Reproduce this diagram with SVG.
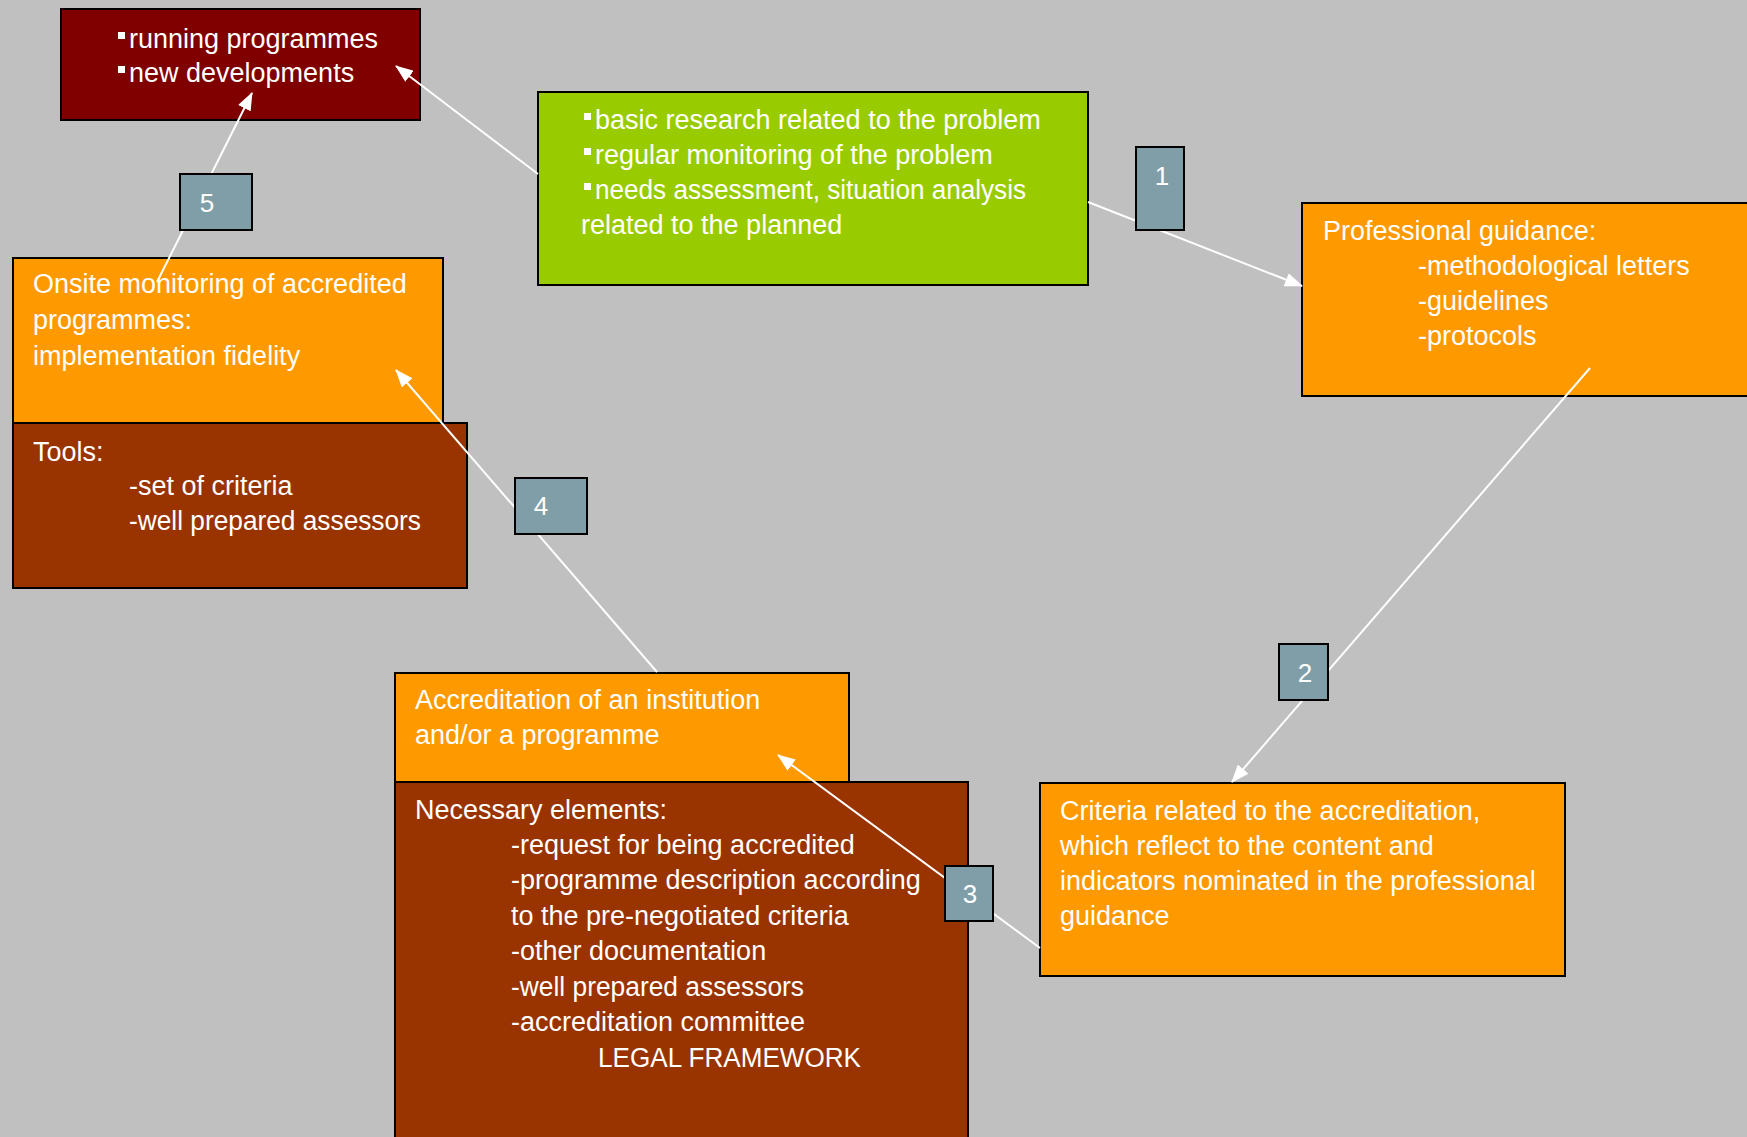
<svg xmlns="http://www.w3.org/2000/svg" width="1747" height="1137" viewBox="0 0 1747 1137">
<style>
.box{stroke:#000;stroke-width:2}
.dred{fill:#800000}
.green{fill:#99CC00}
.orange{fill:#FF9900}
.brown{fill:#993300}
.lbl{fill:#809EA8;stroke:#000;stroke-width:2}
.t{font-family:"Liberation Sans",Arial,sans-serif;font-size:27px;fill:#fff}
.n{font-family:"Liberation Sans",Arial,sans-serif;font-size:26px;fill:#fff;text-anchor:middle}
.bul{fill:#fff}
.conn{stroke:#fff;stroke-width:2;fill:none;marker-end:url(#ah)}
</style>
<defs>
<marker id="ah" viewBox="0 0 18 14" markerWidth="18" markerHeight="14" markerUnits="userSpaceOnUse" refX="17" refY="7" orient="auto">
<path d="M0,0 L18,7 L0,14 z" fill="#fff"/>
</marker>
</defs>
<rect x="0" y="0" width="1747" height="1137" fill="#C0C0C0"/>

<g id="node-outcomes">
<rect class="box dred" x="61" y="9" width="359" height="111"/>
<rect class="bul" x="118" y="32" width="7" height="7"/>
<rect class="bul" x="118" y="66" width="7" height="7"/>
<text class="t" x="129" y="48">running programmes</text>
<text class="t" x="129" y="82">new developments</text>
</g>

<g id="node-research">
<rect class="box green" x="538" y="92" width="550" height="193"/>
<rect class="bul" x="584" y="113" width="7" height="7"/>
<rect class="bul" x="584" y="148" width="7" height="7"/>
<rect class="bul" x="584" y="183" width="7" height="7"/>
<text class="t" x="595" y="129">basic research related to the problem</text>
<text class="t" x="595" y="164">regular monitoring of the problem</text>
<text class="t" x="595" y="199" textLength="431" lengthAdjust="spacingAndGlyphs">needs assessment, situation analysis</text>
<text class="t" x="581" y="234">related to the planned</text>
</g>

<g id="node-guidance">
<rect class="box orange" x="1302" y="203" width="460" height="193"/>
<text class="t" x="1323" y="240">Professional guidance:</text>
<text class="t" x="1418" y="275">-methodological letters</text>
<text class="t" x="1418" y="310">-guidelines</text>
<text class="t" x="1418" y="345">-protocols</text>
</g>

<g id="node-criteria">
<rect class="box orange" x="1040" y="783" width="525" height="193"/>
<text class="t" x="1060" y="820">Criteria related to the accreditation,</text>
<text class="t" x="1060" y="855">which reflect to the content and</text>
<text class="t" x="1060" y="890">indicators nominated in the professional</text>
<text class="t" x="1060" y="925">guidance</text>
</g>

<g id="node-accreditation">
<rect class="box orange" x="395" y="673" width="454" height="109"/>
<text class="t" x="415" y="709">Accreditation of an institution</text>
<text class="t" x="415" y="744">and/or a programme</text>
</g>

<g id="node-elements">
<rect class="box brown" x="395" y="782" width="573" height="370"/>
<text class="t" x="415" y="819">Necessary elements:</text>
<text class="t" x="511" y="854">-request for being accredited</text>
<text class="t" x="511" y="889">-programme description according</text>
<text class="t" x="511" y="925">to the pre-negotiated criteria</text>
<text class="t" x="511" y="960">-other documentation</text>
<text class="t" x="511" y="996" textLength="293" lengthAdjust="spacingAndGlyphs">-well prepared assessors</text>
<text class="t" x="511" y="1031">-accreditation committee</text>
<text class="t" x="598" y="1067" textLength="263" lengthAdjust="spacingAndGlyphs">LEGAL FRAMEWORK</text>
</g>

<g id="node-onsite">
<rect class="box orange" x="13" y="258" width="430" height="165"/>
<text class="t" x="33" y="293">Onsite monitoring of accredited</text>
<text class="t" x="33" y="329">programmes:</text>
<text class="t" x="33" y="365">implementation fidelity</text>
</g>

<g id="node-tools">
<rect class="box brown" x="13" y="423" width="454" height="165"/>
<text class="t" x="33" y="461">Tools:</text>
<text class="t" x="129" y="495">-set of criteria</text>
<text class="t" x="129" y="530" textLength="292" lengthAdjust="spacingAndGlyphs">-well prepared assessors</text>
</g>

<g id="connectors">
<line class="conn" x1="538" y1="174" x2="396" y2="66"/>
<line class="conn" x1="1088" y1="202" x2="1302" y2="286"/>
<line class="conn" x1="1590" y1="368" x2="1232" y2="782"/>
<line class="conn" x1="1040" y1="948" x2="778" y2="755"/>
<line class="conn" x1="657" y1="672" x2="396" y2="370"/>
<line class="conn" x1="157" y1="282" x2="252" y2="93"/>
<g id="label-1"><rect class="lbl" x="1136" y="147" width="48" height="83"/><text class="n" x="1162" y="185">1</text></g>
<g id="label-2"><rect class="lbl" x="1279" y="644" width="49" height="56"/><text class="n" x="1305" y="682">2</text></g>
<g id="label-3"><rect class="lbl" x="945" y="866" width="48" height="55"/><text class="n" x="970" y="903">3</text></g>
<g id="label-4"><rect class="lbl" x="515" y="478" width="72" height="56"/><text class="n" x="541" y="515">4</text></g>
<g id="label-5"><rect class="lbl" x="180" y="174" width="72" height="56"/><text class="n" x="207" y="212">5</text></g>
</g>
</svg>
